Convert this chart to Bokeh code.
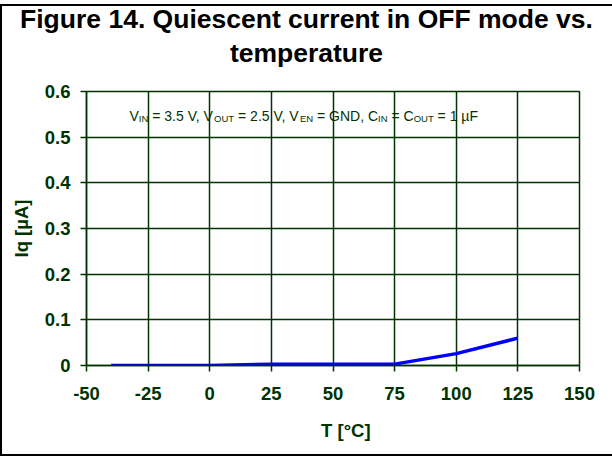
from bokeh.plotting import figure
from bokeh.layouts import column
from bokeh.models import FixedTicker, ColumnDataSource, Range1d, Title
from bokeh.core.properties import value
from bokeh.embed import file_html
from bokeh.resources import INLINE

# ---- data ----
temperature_c = [-40, -25, 0, 25, 50, 75, 100, 125]
iq_ua = [0.0, 0.0, 0.0, 0.003, 0.003, 0.003, 0.026, 0.060]

x_ticks = [-50, -25, 0, 25, 50, 75, 100, 125, 150]
x_tick_labels = ["-50", "-25", "0", "25", "50", "75", "100", "125", "150"]
y_ticks = [0, 0.1, 0.2, 0.3, 0.4, 0.5, 0.6]
y_tick_labels = ["0", "0.1", "0.2", "0.3", "0.4", "0.5", "0.6"]

title_lines = ["Figure 14. Quiescent current in OFF mode vs.", "temperature"]
x_label = "T [°C]"
y_label = "Iq [µA]"

cond_text = ["V", "IN", " = 3.5 V, V", "OUT", " = 2.5 V, V", "EN",
             " = GND, C", "IN", " = C", "OUT", " = 1 µF"]
cond_is_sub = [False, True, False, True, False, True, False, True, False, True, False]

# ---- layout / styling ----
GREEN = "#003300"
FONT = "Liberation Sans"
MAIN_PX = 14.0
SUB_PX = 9.5
TITLE_PX = 26.5
AXIS_PX = 18.5

W = 610                  # canvas width
TITLE_SHIFT = 7          # title strip is pulled up by this many pixels
TITLE_H = 70 + TITLE_SHIFT
PLOT_H = 378             # height of the chart below the title strip
FR_L, FR_R, FR_T, FR_B = 84, 577, 15, 289   # frame edges inside the chart canvas
TITLE_CENTER = 304       # horizontal centre of the title lines (canvas px)
XLABEL_SHIFT = 5         # x-axis label sits a little right of the frame centre
X0, X1, Y0, Y1 = x_ticks[0], x_ticks[-1], y_ticks[0], y_ticks[-1]


def data_x(cx):
    return X0 + (cx - FR_L) / (FR_R - FR_L) * (X1 - X0)


def data_y(cy):
    return Y0 + (FR_B - cy) / (FR_B - FR_T) * (Y1 - Y0)


# Liberation Sans (Arial metrics) advance widths per 1000 em
ARIAL_W = {' ': 278, 'V': 667, 'I': 278, 'N': 722, '=': 584, '3': 556,
           '.': 278, '5': 556, ',': 278, 'O': 778, 'U': 722, 'T': 611, '2': 556,
           'E': 667, 'G': 778, 'D': 722, 'C': 722, '1': 556, 'µ': 576, 'F': 611}
ARIAL_BOLD_W = {'F': 611, 'i': 278, 'g': 611, 'u': 611, 'r': 389, 'e': 556, ' ': 278,
                '1': 556, '4': 556, '.': 278, 'Q': 778, 's': 556, 'c': 556, 'n': 611,
                't': 333, 'O': 778, 'm': 889, 'o': 611, 'd': 611, 'v': 556, 'p': 611,
                'a': 556}


def text_width(s, px, table=ARIAL_W):
    return sum(table.get(ch, 556) for ch in s) * px / 1000.0


# ---- title strip: the two title lines stacked above a thin empty frame ----
tf = figure(width=W, height=TITLE_H, x_range=Range1d(0, 1), y_range=Range1d(0, 1),
            x_axis_type=None, y_axis_type=None, output_backend="svg",
            toolbar_location=None, title=None,
            min_border_top=60, min_border_bottom=0, min_border_left=FR_L,
            min_border_right=W - FR_R)
tf.grid.visible = False
tf.outline_line_color = None
tf.background_fill_color = None
tf.border_fill_color = None
tf.styles = {"margin-top": f"-{TITLE_SHIFT}px"}
for txt, sd in ((title_lines[1], 0), (title_lines[0], 4)):
    left = TITLE_CENTER - text_width(txt, TITLE_PX, ARIAL_BOLD_W) / 2
    tf.add_layout(Title(text=txt, align="left", offset=left - FR_L,
                        vertical_align="bottom", standoff=sd,
                        text_font=FONT, text_font_size=f"{TITLE_PX}px",
                        text_font_style="bold", text_color="black"), "above")

# ---- chart ----
p = figure(width=W, height=PLOT_H,
           x_range=Range1d(X0, X1), y_range=Range1d(Y0, Y1),
           output_backend="svg", toolbar_location=None, title=None,
           min_border_left=FR_L, min_border_right=W - FR_R,
           min_border_top=FR_T, min_border_bottom=PLOT_H - FR_B)
p.background_fill_color = "white"
p.border_fill_color = "white"
p.outline_line_color = GREEN
p.outline_line_width = 1.5

for g, ticks in ((p.xgrid, x_ticks), (p.ygrid, y_ticks)):
    g.ticker = FixedTicker(ticks=ticks)
    g.grid_line_color = GREEN
    g.grid_line_width = 1.5
    g.grid_line_alpha = 1.0

p.xaxis.ticker = FixedTicker(ticks=x_ticks)
p.xaxis.major_label_overrides = {t: l for t, l in zip(x_ticks, x_tick_labels)}
p.yaxis.ticker = FixedTicker(ticks=y_ticks)
p.yaxis.major_label_overrides = {t: l for t, l in zip(y_ticks, y_tick_labels)}
p.xaxis.axis_label = "\u00a0" * XLABEL_SHIFT + x_label
p.yaxis.axis_label = y_label
for ax in (p.xaxis[0], p.yaxis[0]):
    ax.axis_line_color = GREEN
    ax.axis_line_width = 1.5
    ax.major_tick_line_color = GREEN
    ax.major_tick_line_width = 1.5
    ax.major_tick_in = 0
    ax.major_tick_out = 6
    ax.minor_tick_line_color = None
    ax.major_label_text_font = FONT
    ax.major_label_text_font_style = "bold"
    ax.major_label_text_font_size = f"{AXIS_PX}px"
    ax.major_label_text_color = GREEN
    ax.axis_label_text_font = FONT
    ax.axis_label_text_font_style = "bold"
    ax.axis_label_text_font_size = f"{AXIS_PX}px"
    ax.axis_label_text_color = GREEN
p.xaxis.major_label_standoff = 15
p.yaxis.major_label_standoff = 10
p.xaxis.axis_label_standoff = 17
p.yaxis.axis_label_standoff = 10

src = ColumnDataSource(data=dict(t=temperature_c, iq=iq_ua))
p.line("t", "iq", source=src, line_color="#0000ff", line_width=3.5)

# condition annotation (main text + subscripts)
pieces, xo, yo, fs = [], [], [], []
cursor = 0.0
for s, sub in zip(cond_text, cond_is_sub):
    px = SUB_PX if sub else MAIN_PX
    pieces.append(s.replace(" ", "\u00a0"))
    xo.append(cursor)
    yo.append(3.0 if sub else 0.0)
    fs.append(f"{px}px")
    cursor += text_width(s, px)
n = len(cond_text)
cond_src = ColumnDataSource(data=dict(x=[data_x(127)] * n, y=[data_y(39)] * n,
                                      text=pieces, xo=xo, yo=yo, fs=fs))
p.text(x="x", y="y", text="text", source=cond_src, x_offset="xo", y_offset="yo",
       text_font_size="fs", text_font=value(FONT), text_color=GREEN,
       text_align="left", text_baseline="alphabetic")

layout = column(tf, p, spacing=0)
# the outline is painted above the content, so the title strip cannot hide it;
# its right edge falls just outside the window, as in the reference
layout.styles = {"outline": "2px solid black", "margin-top": "6px", "margin-left": "2px"}

open("out.html", "w").write(file_html(layout, INLINE))
